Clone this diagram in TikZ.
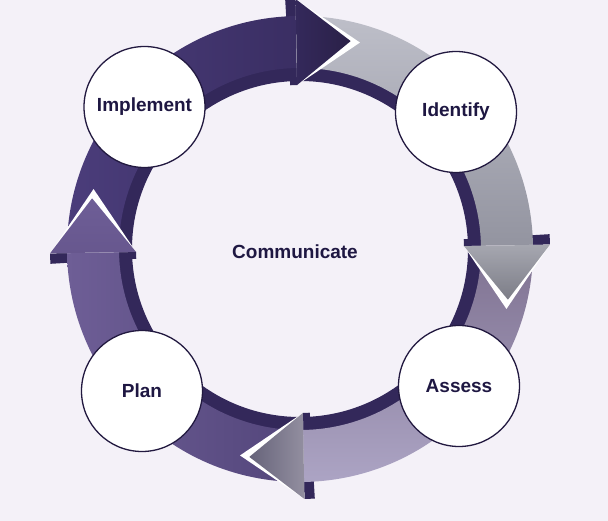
\documentclass[tikz,border=0pt]{standalone}
\usepackage{fontspec}
\newfontfamily\labelfont{Liberation Sans}

\definecolor{bg}{HTML}{F4F1F8}
\definecolor{wall}{HTML}{33285A}
\definecolor{circleedge}{HTML}{221940}
\definecolor{labeltext}{HTML}{1E1742}
% band colours
\definecolor{topbandL}{HTML}{4B3D7B}
\definecolor{topbandR}{HTML}{3A2E63}
\definecolor{rightbandT}{HTML}{BEBFC9}
\definecolor{rightbandB}{HTML}{9394A0}
\definecolor{botbandT}{HTML}{7E7190}
\definecolor{botbandB}{HTML}{ACA4C4}
\definecolor{leftbandL}{HTML}{6E5E96}
\definecolor{leftbandR}{HTML}{52457A}
% head colours
\definecolor{topheadL}{HTML}{34295B}
\definecolor{topheadR}{HTML}{2A2047}
\definecolor{rightheadT}{HTML}{A6A7B0}
\definecolor{rightheadB}{HTML}{7C7D87}
\definecolor{botheadL}{HTML}{66637A}
\definecolor{botheadR}{HTML}{938FA0}
\definecolor{leftheadT}{HTML}{6E5E97}
\definecolor{leftheadB}{HTML}{67578E}

% band of one arrow: options, start angle, end angle
\newcommand\ringshaft[3]{\shade[#1] (#2:233pt) arc[start angle=#2, end angle=#3, radius=233pt]
  -- (#3:181pt) arc[start angle=#3, end angle=#2, radius=181pt] -- cycle;}
% one piece of the dark back face behind a barb: base angle, inner radius, outer radius
\newcommand\barbback[3]{\fill[wall] (#1:#3) arc[start angle=#1, end angle={#1+2.4}, radius=#3]
  -- ({#1+2.4}:#2) arc[start angle={#1+2.4}, end angle=#1, radius=#2] -- cycle;}
\newcommand\headback[1]{\barbback{#1}{164pt}{182pt}\barbback{#1}{232pt}{250pt}}
% white rim ahead of the head
\newcommand\headglow[1]{\fill[white] (#1:250pt) -- ({#1-17.2}:215pt) -- (#1:164pt) -- cycle;}
% the head itself
\newcommand\headface[2]{\shade[#2] (#1:250pt) -- ({#1-14.7}:214pt) -- (#1:164pt) -- cycle;}

\begin{document}
\begin{tikzpicture}[x=1pt, y=1pt,
  stage/.style={circle, draw=circleedge, line width=1.3pt, fill=white,
    minimum size=121pt, inner sep=0pt, text=labeltext,
    font=\labelfont\bfseries\fontsize{19}{22}\selectfont},
  caption/.style={text=labeltext, font=\labelfont\bfseries\fontsize{19}{22}\selectfont}]

\path[fill=bg, use as bounding box] (-300,-272) rectangle (308,249);

% inner wall of the ring
\fill[wall, even odd rule] (0,0) circle[radius=182pt] (0,0) circle[radius=168pt];

% back faces of the heads
\headback{91}
\headback{1}
\headback{-89}
\headback{-179}

% arrow bands
\ringshaft{left color=topbandL, right color=topbandR}{181}{91}
\ringshaft{top color=rightbandT, bottom color=rightbandB}{91}{1}
\ringshaft{top color=botbandT, bottom color=botbandB}{1}{-89}
\ringshaft{left color=leftbandL, right color=leftbandR}{-89}{-179}

% white rims
\headglow{91}
\headglow{1}
\headglow{-89}
\headglow{-179}

% heads
\headface{91}{left color=topheadL, right color=topheadR}
\headface{1}{top color=rightheadT, bottom color=rightheadB}
\headface{-89}{left color=botheadL, right color=botheadR}
\headface{-179}{top color=leftheadT, bottom color=leftheadB}

\node[stage] (implement) at (-155.5,142) {Implement};
\node[stage] (identify) at (156,137) {Identify};
\node[stage] (assess) at (159,-137) {Assess};
\node[stage] (plan) at (-158,-142) {Plan};
\node[caption] (communicate) at (-5,-3) {Communicate};
\end{tikzpicture}
\end{document}
